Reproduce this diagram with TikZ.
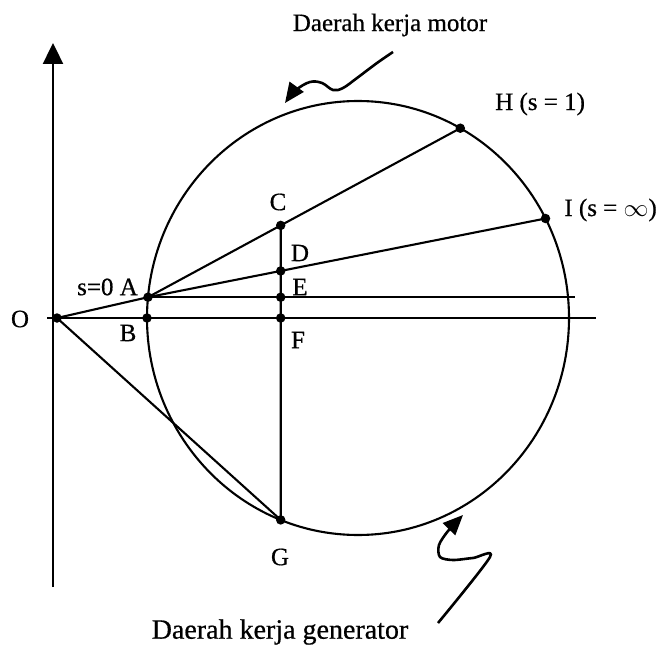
\documentclass[tikz,border=0pt]{standalone}
\usepackage{fontspec}
\setmainfont{Liberation Serif}[FakeBold=0.6]
\usetikzlibrary{arrows.meta,calc}
\begin{document}
\begin{tikzpicture}[x=1pt,y=-1pt,
  ln/.style={line width=2.1pt},
  dot/.style={circle,fill=black,inner sep=0pt,minimum size=9.5pt},
  lbl/.style={font=\fontsize{25}{29}\selectfont,inner sep=0pt},
  sq/.style={line width=2.6pt,-{Triangle[length=20pt,width=17pt]}},
  axisarrow/.style={line width=2.4pt,-{Triangle[length=21pt,width=20pt]}}]
\useasboundingbox (0,0) rectangle (661,655);
% key points
\coordinate (O) at (57,318);
\coordinate (M) at (358,318);
\coordinate (A) at (148.0,297.2);
\coordinate (H) at (460.3,128.2);
\coordinate (I) at (545.5,218.5);
\coordinate (G) at (280.7,519.9);
\coordinate (B) at (147,318);
\coordinate (Gt) at (280.7,150);
\coordinate (C) at (intersection of A--H and G--Gt);
\coordinate (D) at (intersection of A--I and G--Gt);
\coordinate (E) at (G |- A);
\coordinate (F) at (G |- O);
\coordinate (Ae) at (575,297.2);
\coordinate (X0) at (47,318);
\coordinate (X1) at (596,318);
\coordinate (Y0) at (53,587);
\coordinate (Y1) at (53,43);
% circle
\draw[ln] (M) ellipse [x radius=211, y radius=217];
% axes
\draw[axisarrow] (Y0) -- (Y1);
\draw[ln] (X0) -- (X1);
% lines
\draw[ln] (A) -- (Ae);
\draw[ln] (O) -- (A);
\draw[ln] (O) -- (G);
\draw[ln] (A) -- (H);
\draw[ln] (A) -- (I);
\draw[ln] (C) -- (G);
% dots
\foreach \p in {O,A,B,C,D,E,F,G,H,I} \node[dot] at (\p) {};
% labels
\node[lbl] (tO) at (20,319) {O};
\node[lbl,anchor=east] (tA) at (138,287) {s=0 A};
\node[lbl] (tB) at (128,333) {B};
\node[lbl] (tC) at (278,202) {C};
\node[lbl] (tD) at (300,253) {D};
\node[lbl] (tE) at (300,287) {E};
\node[lbl] (tF) at (298,340) {F};
\node[lbl] (tG) at (280,557) {G};
\node[lbl,anchor=west] (tH) at (495,104) {H (s = 1)};
\node[lbl,anchor=east] (tI) at (657,210) {I (s = $\infty$)};
\node[lbl] (tM) at (390,25) {Daerah kerja motor};
\node[lbl,font=\fontsize{28}{32}\selectfont] (tGen) at (280,632) {Daerah kerja generator};
% squiggle arrows
\draw[sq] plot[smooth,tension=0.6] coordinates {(393,52) (377,63) (357,78) (343,88) (333,90) (322,83) (310,82) (296,90) (285,103)};
\draw[sq] plot[smooth,tension=0.5] coordinates {(438,623) (490,557) (473,558) (453,560) (440,557) (439,545) (448,531) (463,515)};
\end{tikzpicture}
\end{document}
